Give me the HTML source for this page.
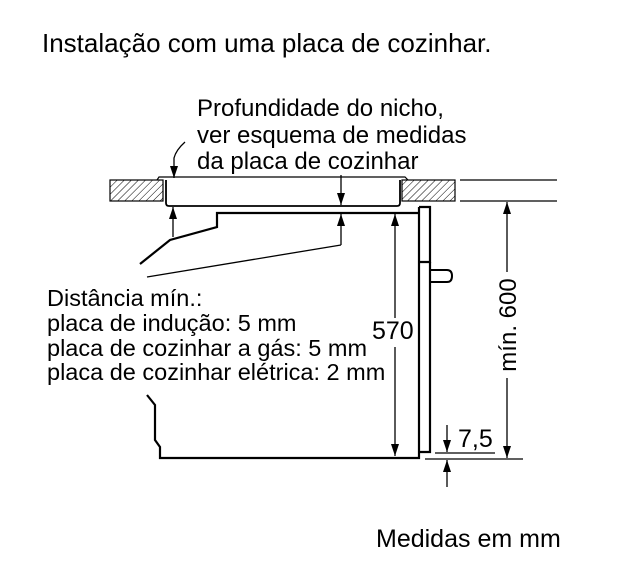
<!DOCTYPE html>
<html><head><meta charset="utf-8"><style>
body{margin:0;background:#fff;}
svg{display:block;font-family:"Liberation Sans",sans-serif;}
</style></head><body>
<svg width="626" height="564" viewBox="0 0 626 564" xmlns="http://www.w3.org/2000/svg">
<defs>
<pattern id="h" width="5" height="5" patternUnits="userSpaceOnUse" patternTransform="rotate(45)">
<line x1="0" y1="0" x2="0" y2="5" stroke="#000" stroke-width="1"/></pattern>
<marker id="a" markerWidth="12" markerHeight="8" refX="12" refY="4" orient="auto" markerUnits="userSpaceOnUse" viewBox="0 0 12 8">
<path d="M0,0 L12,4 L0,8 z" fill="#000"/></marker>
</defs>
<g fill="#000">
<text x="42" y="52" font-size="26">Instalação com uma placa de cozinhar.</text>
<g font-size="24">
<text x="197" y="116">Profundidade do nicho,</text>
<text x="197" y="143">ver esquema de medidas</text>
<text x="197" y="169">da placa de cozinhar</text>
</g>
<g font-size="23.5">
<text x="47" y="306">Distância mín.:</text>
<text x="47" y="331">placa de indução: 5 mm</text>
<text x="47" y="356">placa de cozinhar a gás: 5 mm</text>
<text x="47" y="380">placa de cozinhar elétrica: 2 mm</text>
</g>
<text x="372" y="339" font-size="25">570</text>
<text x="458" y="447" font-size="25">7,5</text>
<text x="376" y="547" font-size="25">Medidas em mm</text>
<text transform="translate(516,325) rotate(-90)" text-anchor="middle" font-size="24">mín. 600</text>
</g>
<g stroke="#000" fill="none" stroke-width="1.5">
<rect x="110" y="180" width="53" height="21" fill="url(#h)" stroke-width="1.2"/>
<rect x="402" y="180" width="53" height="21" fill="url(#h)" stroke-width="1.2"/>
<line x1="460" y1="180" x2="557" y2="180" stroke-width="1.2"/>
<line x1="460" y1="201" x2="557" y2="201" stroke-width="1.2"/>
<path d="M157,180 L159,177 L405,177 L408,180" stroke-width="1.2"/>
<path d="M166,180 L166,203 Q166,206 169,206 L397,206 Q400,206 400,203 L400,180" stroke-width="1.8"/>
<path d="M419,213 L217,213 L217,227 L170,240 L140,264" stroke-width="2.2"/>
<line x1="147" y1="277" x2="341" y2="245" stroke-width="1.3"/>
<path d="M419,207 L430,207 L430,262 L419,262" stroke-width="2.2"/>
<path d="M419,207 L419,458 L160,458 L160,447 L155,440 L155,405 L147,395" stroke-width="2.2"/>
<path d="M430,262 L430,452 L419,452" stroke-width="2.2"/>
<path d="M430,270 L447,270 Q452,270 452,276 Q452,282 447,282 L430,282" stroke-width="2"/>
</g>
<g stroke="#000" fill="none" stroke-width="1.3">
<path d="M185,142 Q176,150 174,158 L174,178" marker-end="url(#a)"/>
<line x1="341" y1="175" x2="341" y2="205" marker-end="url(#a)"/>
<line x1="341" y1="245" x2="341" y2="214" marker-end="url(#a)"/>
<line x1="173" y1="237" x2="173" y2="207" marker-end="url(#a)"/>
<line x1="395" y1="318" x2="395" y2="214" marker-end="url(#a)"/>
<line x1="395" y1="347" x2="395" y2="456" marker-end="url(#a)"/>
<line x1="507" y1="272" x2="507" y2="202" marker-end="url(#a)"/>
<line x1="507" y1="378" x2="507" y2="458" marker-end="url(#a)"/>
<line x1="447" y1="425" x2="447" y2="452" marker-end="url(#a)"/>
<line x1="447" y1="487" x2="447" y2="460" marker-end="url(#a)"/>
<line x1="435" y1="453" x2="495" y2="453"/>
<line x1="425" y1="459" x2="523" y2="459"/>
</g>
</svg>
</body></html>
